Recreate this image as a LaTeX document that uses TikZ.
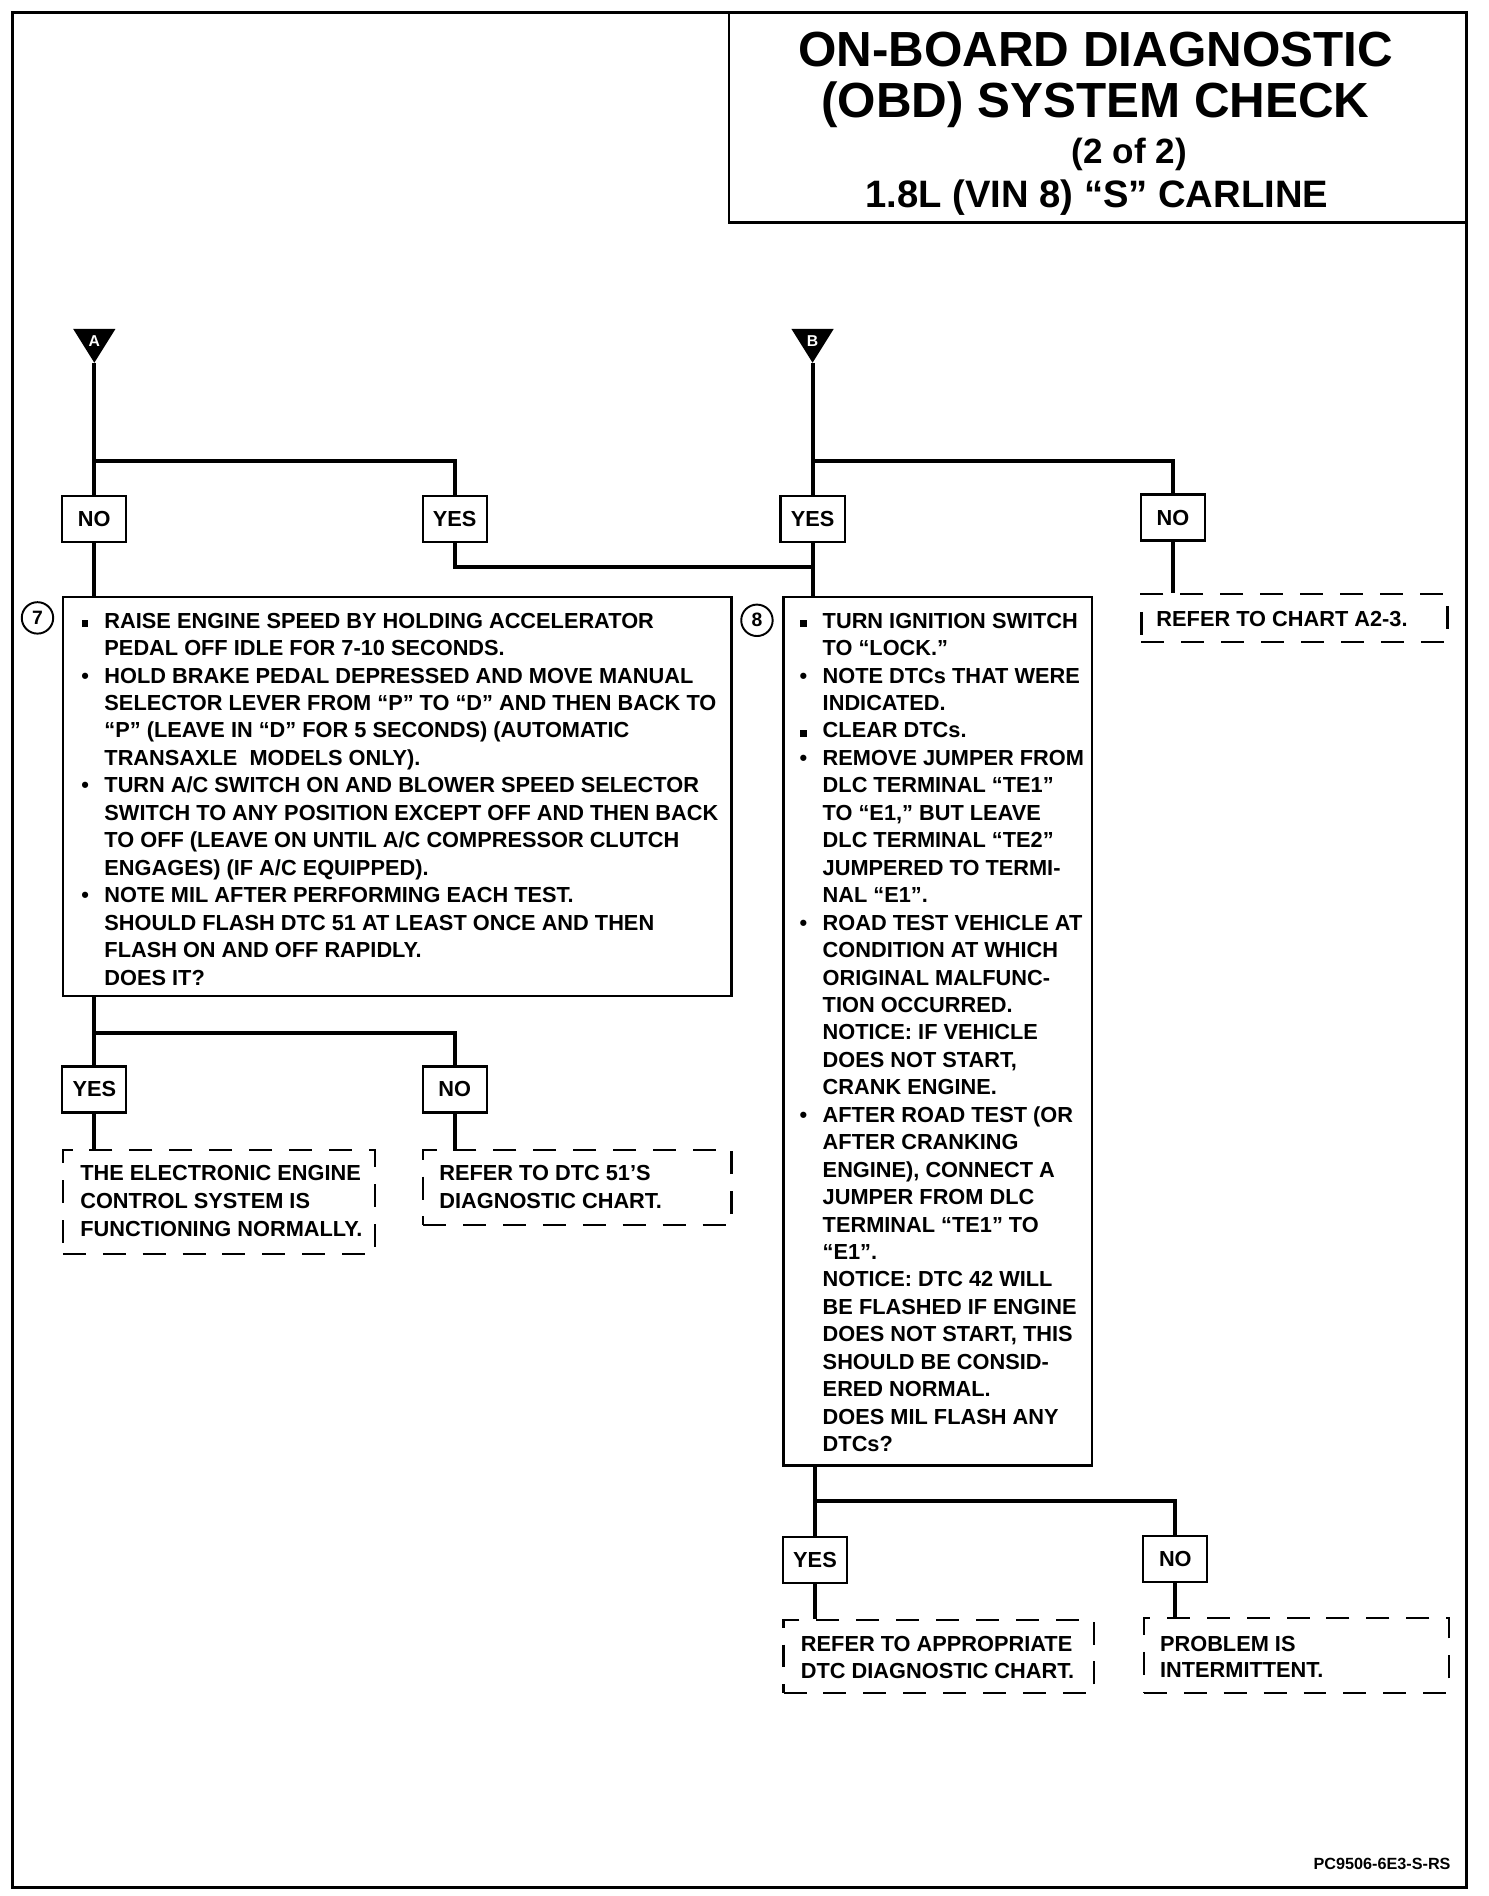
\documentclass[tikz,border=0pt]{standalone}
\usepackage{fontspec}
\setmainfont{Liberation Sans}
\usetikzlibrary{fit}

\tikzset{
  flow/.style={line width=1.7pt},
  box/.style={draw, line width=0.9pt, inner sep=0pt},
  endbox/.style={draw, line width=0.9pt, dash pattern=on 9.5pt off 7pt, inner sep=0pt},
  answer/.style={draw, line width=0.9pt, minimum width=26.5pt, minimum height=19pt,
    inner sep=0pt, font=\fontsize{9}{11}\selectfont\bfseries},
  txt/.style={anchor=base west, inner sep=0pt, font=\fontsize{9}{11}\selectfont\bfseries},
  stepnum/.style={draw, circle, line width=0.8pt, minimum size=13pt, inner sep=0pt,
    font=\fontsize{8}{8}\selectfont\bfseries},
  trilbl/.style={text=white, inner sep=0pt, font=\fontsize{6.5}{7}\selectfont\bfseries},
  title/.style={anchor=base, inner sep=0pt, font=\fontsize{20.4}{24}\selectfont\bfseries},
}
\newcommand{\rb}{\llap{\textbullet\hspace{6.4pt}}}
\newcommand{\sqb}{\llap{\rule[0.6pt]{2.6pt}{2.6pt}\hspace{6.7pt}}}

\begin{document}
\begin{tikzpicture}[x=0.5pt, y=-0.5pt]
  \useasboundingbox (0,0) rectangle (1231,1568);
  % page frame and title block
  \draw[line width=1.3pt] (10,10) rectangle (1213,1561);
  \draw[line width=1pt] (603,10) |- (1213,184);
  \node[title] (head1) at (906,55) {ON-BOARD DIAGNOSTIC};
  \node[title] (head2) at (906,97) {(OBD) SYSTEM CHECK};
  \node[title, font=\fontsize{14.5}{16}\selectfont\bfseries] (head3) at (934,135) {(2 of 2)};
  \node[title, font=\fontsize{15.8}{18}\selectfont\bfseries] (head4) at (907,172) {1.8L (VIN 8) “S” CARLINE};

  % entry triangles
  \foreach \n/\x in {A/78, B/672} {
    \fill (\x-17.5,272) -- (\x+17.5,272) -- (\x,300) -- cycle;
    \node[trilbl] (lbl\n) at (\x,282) {\n};
    \coordinate (tip\n) at (\x,300);
  }

  % yes / no answers
  \node[answer] (noA)  at (78,429)  {NO};
  \node[answer] (yesA) at (376,429) {YES};
  \node[answer] (yesB) at (672,429) {YES};
  \node[answer] (noB)  at (970,428) {NO};
  \node[answer] (yes7) at (78,901)  {YES};
  \node[answer] (no7)  at (376,901) {NO};
  \node[answer] (yes8) at (674,1290) {YES};
  \node[answer] (no8)  at (972,1289) {NO};

  % step boxes
  \node[box, fit={(52,494) (605,824)}] (s7) {};
  \node[box, fit={(648,494) (903,1212)}] (s8) {};
  \node[stepnum] (n7) at (31,511) {7};
  \node[stepnum] (n8) at (626,513) {8};

  % end boxes
  \node[endbox, fit={(944,491) (1197,531)}] (chartA) {};
  \node[endbox, fit={(52,951) (310,1037)}] (normal) {};
  \node[endbox, fit={(350,951) (605,1013)}] (dtc51) {};
  \node[endbox, fit={(648,1340) (905,1400)}] (anydtc) {};
  \node[endbox, fit={(946,1338) (1198,1400)}] (intermit) {};

  % step 7 text
  \foreach \t [count=\i from 0] in {
    {\sqb RAISE ENGINE SPEED BY HOLDING ACCELERATOR},
    {PEDAL OFF IDLE FOR 7-10 SECONDS.},
    {\rb HOLD BRAKE PEDAL DEPRESSED AND MOVE MANUAL},
    {SELECTOR LEVER FROM “P” TO “D” AND THEN BACK TO},
    {“P” (LEAVE IN “D” FOR 5 SECONDS) (AUTOMATIC},
    {TRANSAXLE\ \ MODELS ONLY).},
    {\rb TURN A/C SWITCH ON AND BLOWER SPEED SELECTOR},
    {SWITCH TO ANY POSITION EXCEPT OFF AND THEN BACK},
    {TO OFF (LEAVE ON UNTIL A/C COMPRESSOR CLUTCH},
    {ENGAGES) (IF A/C EQUIPPED).},
    {\rb NOTE MIL AFTER PERFORMING EACH TEST.},
    {SHOULD FLASH DTC 51 AT LEAST ONCE AND THEN},
    {FLASH ON AND OFF RAPIDLY.},
    {DOES IT?}}
    \node[txt] (t7-\i) at (86,519.5+22.7*\i) {\t};

  % step 8 text
  \foreach \t [count=\i from 0] in {
    {\sqb TURN IGNITION SWITCH},
    {TO “LOCK.”},
    {\rb NOTE DTCs THAT WERE},
    {INDICATED.},
    {\sqb CLEAR DTCs.},
    {\rb REMOVE JUMPER FROM},
    {DLC TERMINAL “TE1”},
    {TO “E1,” BUT LEAVE},
    {DLC TERMINAL “TE2”},
    {JUMPERED TO TERMI-},
    {NAL “E1”.},
    {\rb ROAD TEST VEHICLE AT},
    {CONDITION AT WHICH},
    {ORIGINAL MALFUNC-},
    {TION OCCURRED.},
    {NOTICE: IF VEHICLE},
    {DOES NOT START,},
    {CRANK ENGINE.},
    {\rb AFTER ROAD TEST (OR},
    {AFTER CRANKING},
    {ENGINE), CONNECT A},
    {JUMPER FROM DLC},
    {TERMINAL “TE1” TO},
    {“E1”.},
    {NOTICE: DTC 42 WILL},
    {BE FLASHED IF ENGINE},
    {DOES NOT START, THIS},
    {SHOULD BE CONSID-},
    {ERED NORMAL.},
    {DOES MIL FLASH ANY},
    {DTCs?}}
    \node[txt] (t8-\i) at (680,519.5+22.7*\i) {\t};

  % end box text
  \node[txt] (tA) at (956,518.5) {REFER TO CHART A2-3.};
  \foreach \t [count=\i from 0] in {{THE ELECTRONIC ENGINE},{CONTROL SYSTEM IS},{FUNCTIONING NORMALLY.}}
    \node[txt] (tn-\i) at (66,976.5+23*\i) {\t};
  \foreach \t [count=\i from 0] in {{REFER TO DTC 51’S},{DIAGNOSTIC CHART.}}
    \node[txt] (td-\i) at (363,976.5+23*\i) {\t};
  \foreach \t [count=\i from 0] in {{REFER TO APPROPRIATE},{DTC DIAGNOSTIC CHART.}}
    \node[txt] (ta-\i) at (662,1365.5+23*\i) {\t};
  \foreach \t [count=\i from 0] in {{PROBLEM IS},{INTERMITTENT.}}
    \node[txt] (ti-\i) at (959,1365.5+22*\i) {\t};

  % branch points
  \coordinate (jA) at (78,381);
  \coordinate (jB) at (672,381);
  \coordinate (jYes) at (672,469);
  \coordinate (j7) at (78,854);
  \coordinate (j8) at (674,1241);

  % connectors
  \draw[flow] (tipA) -- (noA.north);
  \draw[flow] (jA) -| (yesA.north);
  \draw[flow] (noA.south) -- (noA |- s7.north);
  \draw[flow] (yesA.south) |- (jYes);
  \draw[flow] (tipB) -- (yesB.north);
  \draw[flow] (jB) -| (noB.north);
  \draw[flow] (yesB.south) -- (yesB |- s8.north);
  \draw[flow] (noB.south) -- (noB |- chartA.north);
  \draw[flow] (yes7 |- s7.south) -- (yes7.north);
  \draw[flow] (j7) -| (no7.north);
  \draw[flow] (yes7.south) -- (yes7 |- normal.north);
  \draw[flow] (no7.south) -- (no7 |- dtc51.north);
  \draw[flow] (yes8 |- s8.south) -- (yes8.north);
  \draw[flow] (j8) -| (no8.north);
  \draw[flow] (yes8.south) -- (yes8 |- anydtc.north);
  \draw[flow] (no8.south) -- (no8 |- intermit.north);

  \node[anchor=base east, inner sep=0pt, font=\fontsize{6.7}{8}\selectfont\bfseries] (code) at (1200,1546) {PC9506-6E3-S-RS};
\end{tikzpicture}
\end{document}
